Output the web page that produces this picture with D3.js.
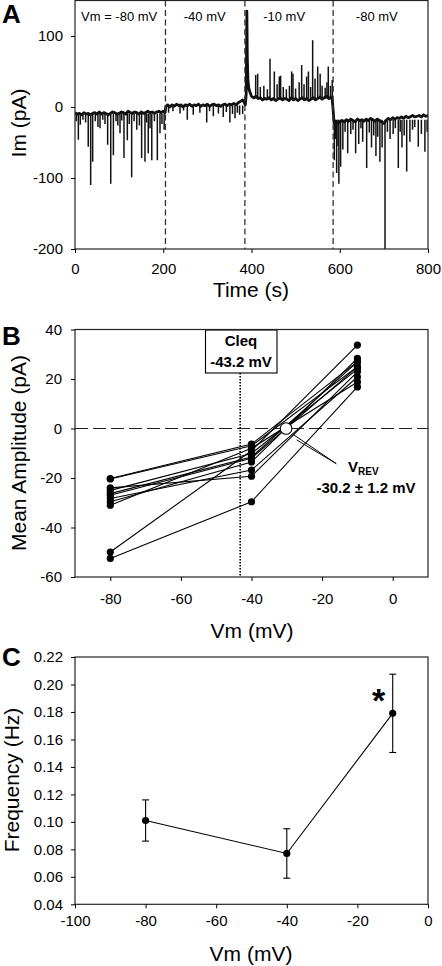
<!DOCTYPE html>
<html><head><meta charset="utf-8">
<script src="https://cdn.jsdelivr.net/npm/d3@7"></script>
<style>
body{margin:0;background:#fff;}
svg{display:block;font-family:"Liberation Sans",Arial,sans-serif;}
</style></head>
<body><svg id="c" width="442" height="966"></svg>
<script>
// ---------- Panel A data ----------
const stepTimes = [205, 385, 585];
const stepLabels = ["Vm = -80 mV", "-40 mV", "-10 mV", "-80 mV"];
const stepLabelT = [100, 294, 474, 684];
const segLevels = [-9, 2, 12, -18];
const traceBaseline = [
 [0,-8],[5,-10],[10,-9],[15,-11],[20,-8],[25,-10],[30,-9],[35,-11],[40,-9],[45,-8],[50,-10],[55,-7],[60,-10],[65,-8],[70,-9],[75,-11],[80,-9],[85,-7],[90,-8],[95,-10],[100,-9],[105,-7],[110,-8],[115,-10],[120,-6],[125,-8],[130,-9],[135,-7],[140,-8],[145,-10],[150,-7],[155,-9],[160,-8],[165,-6],[170,-8],[175,-7],[180,-9],[185,-7],[190,-6],[195,-8],[200,-6],[204,-8],
 [206,1],[210,3],[215,0],[220,3],[225,1],[230,4],[235,2],[240,3],[245,0],[250,3],[255,2],[260,4],[265,1],[270,3],[275,2],[280,4],[285,1],[290,3],[295,2],[300,4],[305,1],[310,3],[315,4],[320,2],[325,3],[330,1],[335,3],[340,4],[345,2],[350,4],[355,3],[360,5],[365,3],[370,6],[375,8],[380,10],[383,7],[386,3],
 [388,18],[389.5,135],[390.5,70],[392,38],[394,26],[397,20],[400,15],[405,13],[410,15],[415,12],[420,13],[425,10],[430,12],[435,11],[440,13],[445,10],[450,12],[455,9],[460,11],[465,13],[470,10],[475,12],[480,11],[485,9],[490,13],[495,10],[500,12],[505,9],[510,11],[515,13],[520,10],[525,12],[530,9],[535,11],[540,13],[545,10],[550,12],[555,14],[560,11],[565,13],[570,15],[575,12],[580,14],[583,10],[585,-4],[587,-22],
 [590,-20],[595,-23],[600,-21],[605,-19],[610,-21],[615,-18],[620,-20],[625,-17],[630,-19],[635,-21],[640,-17],[645,-19],[650,-18],[655,-20],[660,-17],[665,-19],[670,-16],[675,-18],[680,-20],[685,-17],[690,-19],[695,-21],[700,-23],[705,-19],[710,-16],[715,-18],[720,-15],[725,-17],[730,-15],[735,-16],[740,-14],[745,-16],[750,-13],[755,-15],[760,-14],[765,-12],[770,-14],[775,-13],[780,-12],[785,-14],[790,-11],[795,-13],[800,-12]
];
const traceSpikes = [
 [3,-20],[7.6,-46],[12,-25],[18,-18],[24,-22],[30,-56],[35.5,-110],[40,-77],[46,-20],[52,-28],[56.7,-30],[63,-18],[68,-24],[74,-53],[81,-108],[87,-68],[93,-20],[97,-26],[102,-37],[106,-19],[111,-72],[118.6,-47],[123,-24],[128.4,-99],[134,-20],[140,-32],[146,-26],[151,-72],[158.6,-77],[162,-22],[166,-65],[170,-30],[174,-75],[180,-20],[186.6,-75],[192.6,-37],[197,-24],[202,-32],
 [212,-8],[222,-6],[238,-9],[246,-5],[254.5,-18],[268,-11],[283,-8],[298.5,-22],[305,-6],[313.5,-13],[325,-9],[336,-14],[343,-7],[351,-22],[357,-10],[362.6,-16],[368,-8],[373,-11],[380,-10],
 [409.5,45],[414,47],[420,28],[428,30],[436,25],[442,68],[451.7,50],[458,32],[463,43],[466,44],[472,28],[479,25],[486,30],[491,50],[494,47],[500,26],[508,35],[513.7,59],[519,32],[525,43],[529,50],[534,28],[538.6,94],[544,40],[550,57],[555.6,47],[560,30],[567,27],[571,35],[574,57],[579,30],[583,38],
 [587.7,-75],[590,-45],[593,-93],[596,-55],[598,-108],[602,-84],[607,-60],[612,-35],[618,-65],[625,-38],[630,-32],[636,-65],[643,-52],[648,-30],[652,-49],[661,-86],[667,-36],[672,-57],[677,-40],[682,-69],[686,-42],[691,-77],[696,-57],[702.6,-200],[708,-35],[714,-45],[721,-38],[726,-30],[732.7,-86],[737,-35],[741,-57],[746,-40],[751.7,-91],[759,-49],[765,-32],[770,-28],[778,-56],[785,-38],[793,-63],[798,-35]
];
const aXTicks = [0, 200, 400, 600, 800];
const aYTicks = [-200, -100, 0, 100];

// ---------- Panel B data ----------
const ivVm = [-80, -40, -10];
const ivCells = [
 [-20.2, -6.3, 27.0],
 [-20.4, -7.0, 25.0],
 [-24.0, -19.3, 22.9],
 [-25.0, -10.1, 24.0],
 [-26.3, -11.5, 26.9],
 [-28.3, -16.8, 20.8],
 [-29.6, -13.5, 28.3],
 [-31.0, -8.0, 18.8],
 [-49.9, -9.0, 33.7],
 [-52.5, -29.6, 16.8],
 [-27.0, -12.0, 24.9]
];
const cleq = -43.2;
const vrev = -30.2;
const bXTicks = [-80, -60, -40, -20, 0];
const bYTicks = [-60, -40, -20, 0, 20, 40];

// ---------- Panel C data ----------
const freqVm = [-80, -40, -10];
const freqMean = [0.101, 0.077, 0.179];
const freqSem = [0.015, 0.018, 0.0285];
const cXTicks = [-100, -80, -60, -40, -20, 0];
const cYTicks = [0.04, 0.06, 0.08, 0.10, 0.12, 0.14, 0.16, 0.18, 0.20, 0.22];

const svg = d3.select("#c");
const L = 75, R = 428;
const FONT = "'Liberation Sans', Arial, sans-serif";

function styleAxis(g){
  g.selectAll("text").attr("font-size", 15).attr("fill", "#000").attr("font-family", FONT);
  g.selectAll("line").attr("stroke", "#000");
  g.select(".domain").remove();
}
function frame(x0,y0,x1,y1){
  svg.append("rect").attr("x",x0).attr("y",y0).attr("width",x1-x0).attr("height",y1-y0)
    .attr("fill","none").attr("stroke","#222").attr("stroke-width",1.2);
}
function letter(t,x,y){
  svg.append("text").attr("x",x).attr("y",y).attr("font-size",26).attr("font-weight","bold").text(t);
}
function ytitle(t,x,y){
  svg.append("text").attr("transform",`translate(${x},${y}) rotate(-90)`).attr("text-anchor","middle")
    .attr("font-size",21).text(t);
}
function xtitle(t,x,y){
  svg.append("text").attr("x",x).attr("y",y).attr("text-anchor","middle").attr("font-size",21).text(t);
}

// ================= Panel A =================
{
  const x = d3.scaleLinear().domain([0,800]).range([L,R]);
  const y = d3.scaleLinear().domain([-200,150]).range([249,0.5]);
  const clipId = "clipA";
  svg.append("clipPath").attr("id",clipId).append("rect").attr("x",L).attr("y",0.5).attr("width",R-L).attr("height",249-0.5);
  const gp = svg.append("g").attr("clip-path",`url(#${clipId})`);
  gp.append("g").selectAll("line").data(traceSpikes).join("line")
    .attr("x1",d=>x(d[0])).attr("x2",d=>x(d[0]))
    .attr("y1",d=>y(segLevels[d3.bisectRight(stepTimes,d[0])]))
    .attr("y2",d=>y(d[1]))
    .attr("stroke","#111").attr("stroke-width",1.5);
  gp.append("path").datum(traceBaseline)
    .attr("d", d3.line().x(d=>x(d[0])).y(d=>y(d[1])))
    .attr("fill","none").attr("stroke","#111").attr("stroke-width",2.8).attr("stroke-linejoin","round");
  svg.append("g").selectAll("line").data(stepTimes).join("line")
    .attr("x1",d=>x(d)).attr("x2",d=>x(d)).attr("y1",y(150)).attr("y2",y(-200))
    .attr("stroke","#333").attr("stroke-width",1.3).attr("stroke-dasharray","6,3.5");
  svg.append("g").selectAll("text").data(stepLabels).join("text")
    .attr("x",(d,i)=>x(stepLabelT[i])).attr("y",21).attr("text-anchor","middle")
    .attr("font-size",13).text(d=>d);
  frame(L,0.5,R,249);
  svg.append("g").attr("transform","translate(0,249)")
    .call(d3.axisBottom(x).tickValues(aXTicks).tickSize(4).tickPadding(10).tickFormat(d=>String(d))).call(styleAxis);
  svg.append("g").attr("transform",`translate(${L},0)`)
    .call(d3.axisLeft(y).tickValues(aYTicks).tickSize(4).tickPadding(8).tickFormat(d=>String(d))).call(styleAxis);
  letter("A",2,23);
  ytitle("Im (pA)",26,123);
  xtitle("Time (s)",251,297);
}

// ================= Panel B =================
{
  const x = d3.scaleLinear().domain([-90,10]).range([L,R]);
  const y = d3.scaleLinear().domain([-60,40]).range([577,329.5]);
  svg.append("line").attr("x1",L).attr("x2",R).attr("y1",y(0)).attr("y2",y(0))
    .attr("stroke","#222").attr("stroke-width",1.1).attr("stroke-dasharray","13,5");
  svg.append("line").attr("x1",x(cleq)).attr("x2",x(cleq)).attr("y1",373).attr("y2",y(-60))
    .attr("stroke","#000").attr("stroke-width",1.6).attr("stroke-dasharray","1.5,1.5");
  const line = d3.line().x((d,i)=>x(ivVm[i])).y(d=>y(d));
  svg.append("g").selectAll("path").data(ivCells).join("path")
    .attr("d",line).attr("fill","none").attr("stroke","#000").attr("stroke-width",1.1);
  ivCells.forEach(c=>{
    svg.append("g").selectAll("circle").data(c).join("circle")
      .attr("cx",(d,i)=>x(ivVm[i])).attr("cy",d=>y(d)).attr("r",3.6).attr("fill","#000");
  });
  const tip = [-16, -14.2];
  [[-28.3,-2.3],[-27.2,-4.6]].forEach(p=>{
    svg.append("line").attr("x1",x(p[0])).attr("y1",y(p[1])).attr("x2",x(tip[0])).attr("y2",y(tip[1]))
      .attr("stroke","#000").attr("stroke-width",1);
  });
  svg.append("circle").attr("cx",x(vrev)).attr("cy",y(0)).attr("r",5.8)
    .attr("fill","#fff").attr("stroke","#000").attr("stroke-width",1.1);
  const vt = svg.append("text").attr("x",348).attr("y",472).attr("font-size",15).attr("font-weight","bold");
  vt.append("tspan").text("V");
  vt.append("tspan").attr("font-size",10).attr("dy",3).text("REV");
  svg.append("text").attr("x",366).attr("y",493).attr("text-anchor","middle").attr("font-size",15)
    .attr("font-weight","bold").text("-30.2 \u00b1 1.2 mV");
  svg.append("rect").attr("x",205.5).attr("y",330).attr("width",71.5).attr("height",43)
    .attr("fill","#fff").attr("stroke","#000").attr("stroke-width",1.1);
  svg.append("text").attr("x",241).attr("y",346).attr("text-anchor","middle").attr("font-size",15)
    .attr("font-weight","bold").text("Cleq");
  svg.append("text").attr("x",241).attr("y",367).attr("text-anchor","middle").attr("font-size",15)
    .attr("font-weight","bold").text("-43.2 mV");
  frame(L,329.5,R,577);
  svg.append("g").attr("transform","translate(0,577)")
    .call(d3.axisBottom(x).tickValues(bXTicks).tickSize(4).tickPadding(12).tickFormat(d=>String(d))).call(styleAxis);
  svg.append("g").attr("transform",`translate(${L},0)`)
    .call(d3.axisLeft(y).tickValues(bYTicks).tickSize(4).tickPadding(9).tickFormat(d=>String(d))).call(styleAxis);
  letter("B",2,345);
  ytitle("Mean Amplitude (pA)",26,453);
  xtitle("Vm (mV)",252,638);
}

// ================= Panel C =================
{
  const x = d3.scaleLinear().domain([-100,0]).range([L,R]);
  const y = d3.scaleLinear().domain([0.04,0.22]).range([904.3,657]);
  const pts = freqVm.map((v,i)=>({v, m:freqMean[i], s:freqSem[i]}));
  svg.append("path").datum(pts).attr("d",d3.line().x(d=>x(d.v)).y(d=>y(d.m)))
    .attr("fill","none").attr("stroke","#000").attr("stroke-width",1.1);
  const eb = svg.append("g").attr("stroke","#000").attr("stroke-width",1.1);
  pts.forEach(d=>{
    eb.append("line").attr("x1",x(d.v)).attr("x2",x(d.v)).attr("y1",y(d.m-d.s)).attr("y2",y(d.m+d.s));
    [d.m-d.s, d.m+d.s].forEach(e=>eb.append("line").attr("x1",x(d.v)-3.5).attr("x2",x(d.v)+3.5).attr("y1",y(e)).attr("y2",y(e)));
  });
  svg.append("g").selectAll("circle").data(pts).join("circle")
    .attr("cx",d=>x(d.v)).attr("cy",d=>y(d.m)).attr("r",3.6).attr("fill","#000");
  svg.append("text").attr("x",x(-10)-14).attr("y",y(0.179)-1).attr("text-anchor","middle")
    .attr("font-size",34).attr("font-weight","bold").text("*");
  frame(L,657,R,904.3);
  svg.append("g").attr("transform","translate(0,904.3)")
    .call(d3.axisBottom(x).tickValues(cXTicks).tickSize(4).tickPadding(7).tickFormat(d=>String(d))).call(styleAxis);
  svg.append("g").attr("transform",`translate(${L},0)`)
    .call(d3.axisLeft(y).tickValues(cYTicks).tickSize(4).tickPadding(8).tickFormat(d3.format(".2f"))).call(styleAxis);
  letter("C",2,666);
  ytitle("Frequency (Hz)",19,780);
  xtitle("Vm (mV)",251,961);
}
</script></body></html>
